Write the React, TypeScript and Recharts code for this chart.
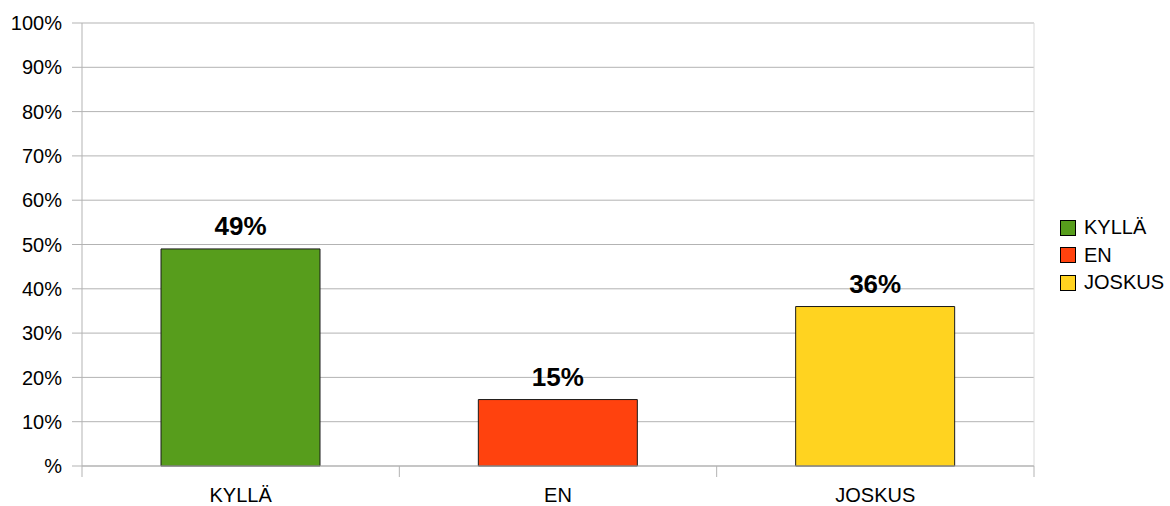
import React from "react";
import {
  BarChart,
  Bar,
  Cell,
  XAxis,
  YAxis,
  CartesianGrid,
  LabelList,
  ReferenceLine,
} from "recharts";

const categories = ["KYLLÄ", "EN", "JOSKUS"];
const answerShares = [49, 15, 36];
const barColors = ["#579d1c", "#ff420e", "#ffd320"];
const yTicks = [0, 10, 20, 30, 40, 50, 60, 70, 80, 90, 100];

const FONT = '"Liberation Sans", Arial, sans-serif';
const GRID = "#b3b3b3";

// numeric x axis so ticks can sit on category edges, labels at centres
const data = categories.map((name, i) => ({
  name,
  pos: i + 0.5,
  value: answerShares[i],
}));
const xTicks = Array.from(
  { length: categories.length * 2 + 1 },
  (_, i) => i / 2,
);

function CategoryTick(props: any) {
  const { x, y, payload } = props;
  const v = Number(payload.value);
  if (Number.isInteger(v)) {
    return <line x1={x} x2={x} y1={y} y2={y + 11} stroke={GRID} />;
  }
  return (
    <text
      x={x}
      y={y + 36}
      textAnchor="middle"
      fontSize={20}
      fontFamily={FONT}
      fill="#000"
    >
      {categories[Math.floor(v)]}
    </text>
  );
}

function Legend() {
  return (
    <div
      style={{
        position: "absolute",
        left: 1060,
        top: 214,
        fontFamily: FONT,
        fontSize: 20,
        color: "#000",
      }}
    >
      {categories.map((c, i) => (
        <div
          key={c}
          style={{ display: "flex", alignItems: "center", height: 27.5 }}
        >
          <span
            style={{
              width: 14,
              height: 14,
              background: barColors[i],
              border: "1px solid #000",
              marginRight: 8,
            }}
          />
          <span>{c}</span>
        </div>
      ))}
    </div>
  );
}

export default function App() {
  return (
    <div
      style={{
        position: "absolute",
        left: 0,
        top: 0,
        width: 1170,
        height: 506,
        background: "#fff",
        fontFamily: FONT,
      }}
    >
      <BarChart
        width={1170}
        height={506}
        data={data}
        margin={{ top: 23, right: 136, left: 0, bottom: 0 }}
      >
        <CartesianGrid vertical={false} stroke={GRID} />
        <XAxis
          type="number"
          dataKey="pos"
          domain={[0, categories.length]}
          ticks={xTicks}
          interval={0}
          height={40}
          tickLine={false}
          tickSize={0}
          tickMargin={0}
          axisLine={{ stroke: GRID }}
          tick={<CategoryTick />}
        />
        <YAxis
          domain={[0, 100]}
          ticks={yTicks}
          interval={0}
          width={82}
          tickSize={10}
          tickMargin={10}
          axisLine={{ stroke: GRID }}
          tickLine={{ stroke: GRID }}
          tick={{ fill: "#000", fontSize: 20, fontFamily: FONT }}
          tickFormatter={(v) => (v === 0 ? "%" : `${v}%`)}
        />
        <ReferenceLine x={categories.length} stroke="#dadada" />
        <Bar
          dataKey="value"
          barSize={159}
          stroke="#1a1a1a"
          strokeWidth={1}
          isAnimationActive={false}
        >
          {data.map((d, i) => (
            <Cell key={d.name} fill={barColors[i]} />
          ))}
          <LabelList
            dataKey="value"
            position="top"
            offset={14}
            formatter={(v: any) => `${v}%`}
            style={{
              fontWeight: "bold",
              fontSize: 26,
              fill: "#000",
              fontFamily: FONT,
            }}
          />
        </Bar>
      </BarChart>
      <Legend />
    </div>
  );
}
